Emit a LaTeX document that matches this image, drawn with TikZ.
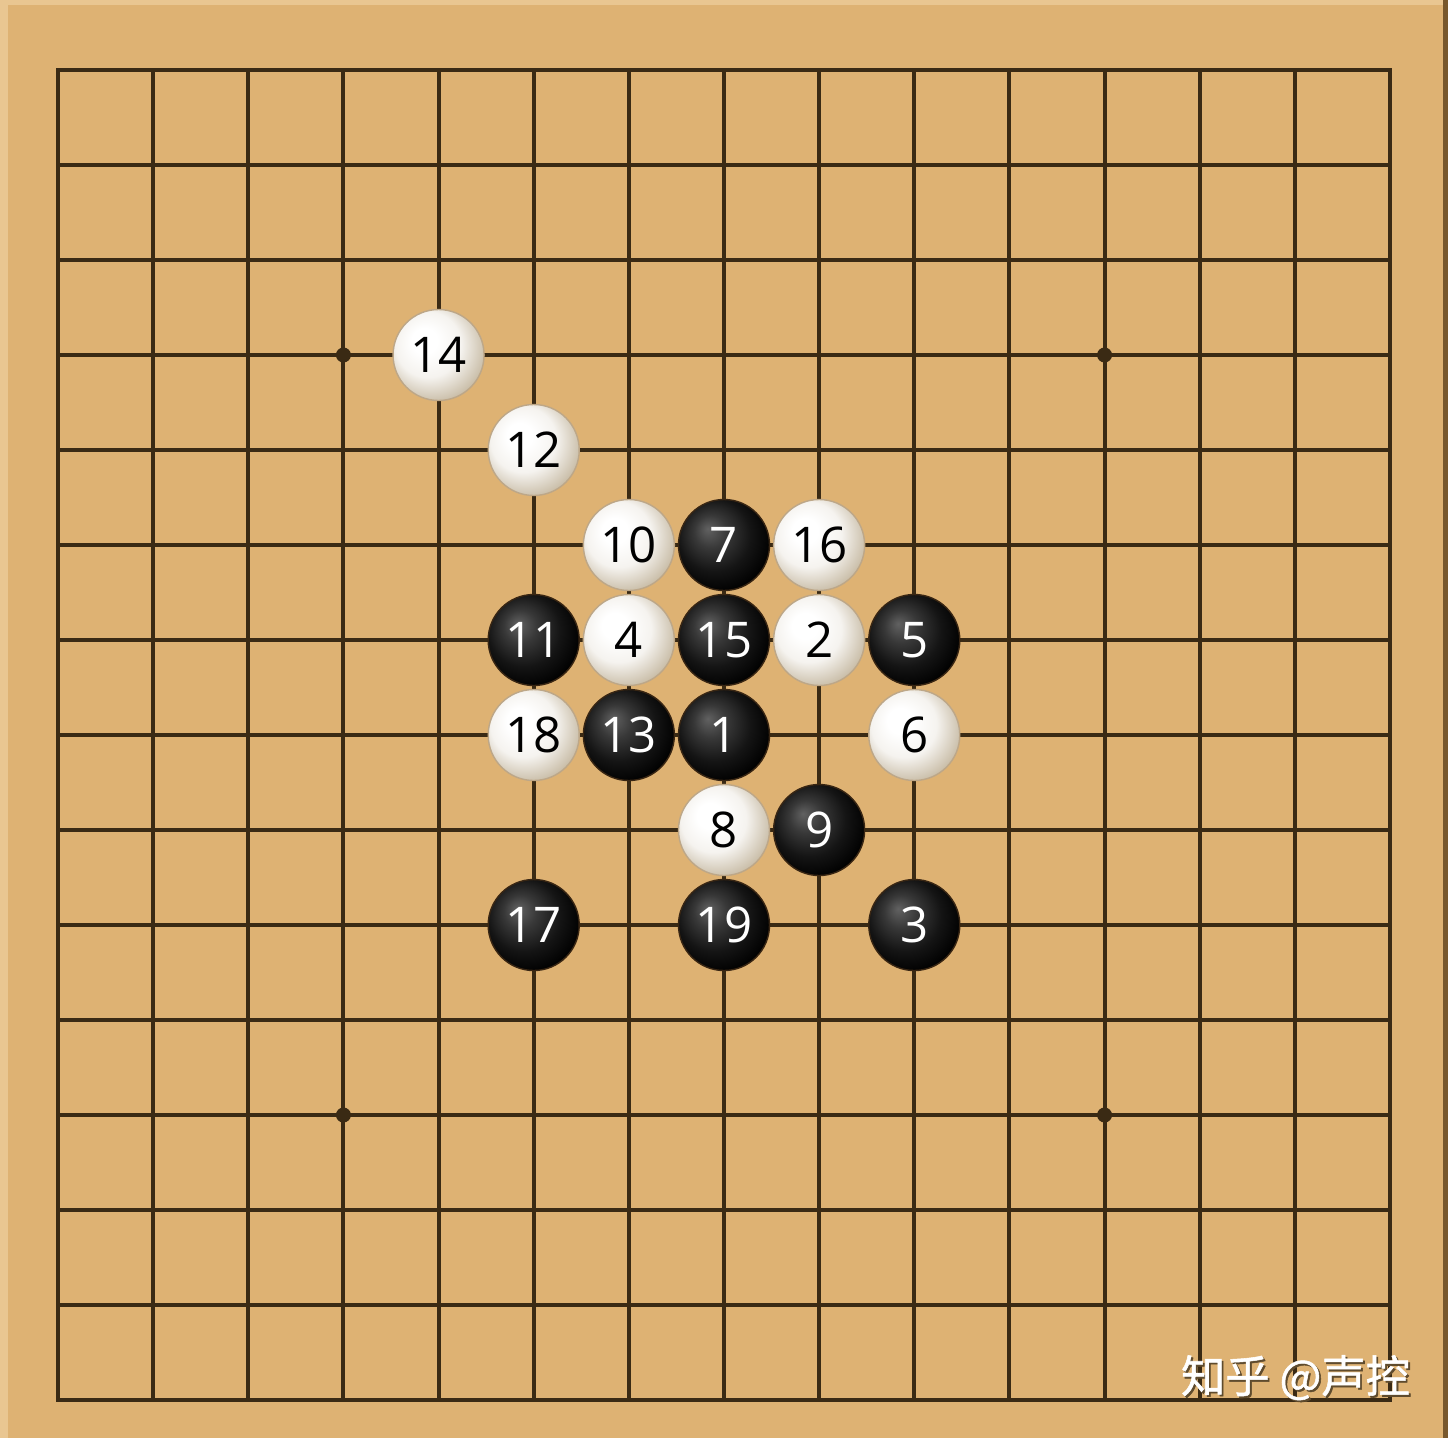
\documentclass[tikz,border=0pt]{standalone}
\usepackage{fontspec}
\setsansfont{Open Sans}
\newfontfamily\cjkfont[FakeBold=1.2]{Noto Sans CJK SC}
\usetikzlibrary{positioning}
\definecolor{wood}{RGB}{222,178,115}
\definecolor{woodlight}{RGB}{233,198,145}
\definecolor{wooddark}{RGB}{120,88,45}
\definecolor{gridline}{RGB}{58,42,20}
\definecolor{stoneedge}{RGB}{200,188,166}
\definecolor{stonerim}{RGB}{160,130,85}
\definecolor{markshadow}{RGB}{95,75,45}
\pgfdeclareradialshading{whitestone}{\pgfpoint{-9bp}{9bp}}{color(0bp)=(white); color(7bp)=(white); color(18bp)=(white!82!stoneedge); color(30bp)=(stoneedge); color(50bp)=(stoneedge)}
\pgfdeclareradialshading{blackstone}{\pgfpoint{-9bp}{9bp}}{color(0bp)=(black!62); color(9bp)=(black!78); color(20bp)=(black!92); color(30bp)=(black); color(50bp)=(black)}
\tikzset{
  gridstroke/.style = {
    gridline,
    line width=1.1pt
  },
  hoshi/.style = {
    circle,
    fill=gridline,
    inner sep=0pt,
    minimum size=0.15cm
  },
  stone/.style = {
    circle,
    inner sep=0pt,
    minimum size=0.91cm,
    font=\sffamily\fontsize{14}{14}\selectfont
  },
  wstone/.style = {
    stone,
    shading=whitestone,
    draw=stonerim!70,
    line width=0.4pt,
    text=black
  },
  bstone/.style = {
    stone,
    shading=blackstone,
    draw=black!70!brown,
    line width=0.4pt,
    text=white
  },
  watermark/.style = {
    font=\cjkfont\fontsize{12.6}{12.6}\selectfont,
    inner sep=0pt
  }
}

\begin{document}
\begin{tikzpicture}[x=0.9514cm, y=-0.95cm]
    \useasboundingbox (-0.6096,-0.7368) rectangle (14.610,14.4);
    \fill[wood] (-0.6096,-0.7368) rectangle (14.610,14.4);
    \fill[woodlight] (-0.6096,-0.7368) rectangle (-0.525,14.4);
    \fill[woodlight] (-0.6096,-0.7368) rectangle (14.610,-0.685);
    \fill[wooddark] (14.555,-0.7368) rectangle (14.610,14.4);

    \foreach \i in {0,...,14} {
        \draw[gridstroke] (\i,0) -- (\i,14);
        \draw[gridstroke] (0,\i) -- (14,\i);
    }
    \draw[gridstroke] (0,0) rectangle (14,14);

    \foreach \x/\y/\n in {3/3/a, 11/3/b, 3/11/c, 11/11/d}
        \node[hoshi] (star\n) at (\x,\y) {};

    \node[bstone] (move1)  at (7,7) {1};
    \node[wstone] (move2)  at (8,6) {2};
    \node[bstone] (move3)  at (9,9) {3};
    \node[wstone] (move4)  at (6,6) {4};
    \node[bstone] (move5)  at (9,6) {5};
    \node[wstone] (move6)  at (9,7) {6};
    \node[bstone] (move7)  at (7,5) {7};
    \node[wstone] (move8)  at (7,8) {8};
    \node[bstone] (move9)  at (8,8) {9};
    \node[wstone] (move10) at (6,5) {10};
    \node[bstone] (move11) at (5,6) {11};
    \node[wstone] (move12) at (5,4) {12};
    \node[bstone] (move13) at (6,7) {13};
    \node[wstone] (move14) at (4,3) {14};
    \node[bstone] (move15) at (7,6) {15};
    \node[wstone] (move16) at (8,5) {16};
    \node[bstone] (move17) at (5,9) {17};
    \node[wstone] (move18) at (5,7) {18};
    \node[bstone] (move19) at (7,9) {19};

    \node[watermark, text=markshadow] (markshade) at (13.027,13.785) {知乎 @声控};
    \node[watermark, text=white] (mark) at (13.007,13.765) {知乎 @声控};
\end{tikzpicture}
\end{document}
